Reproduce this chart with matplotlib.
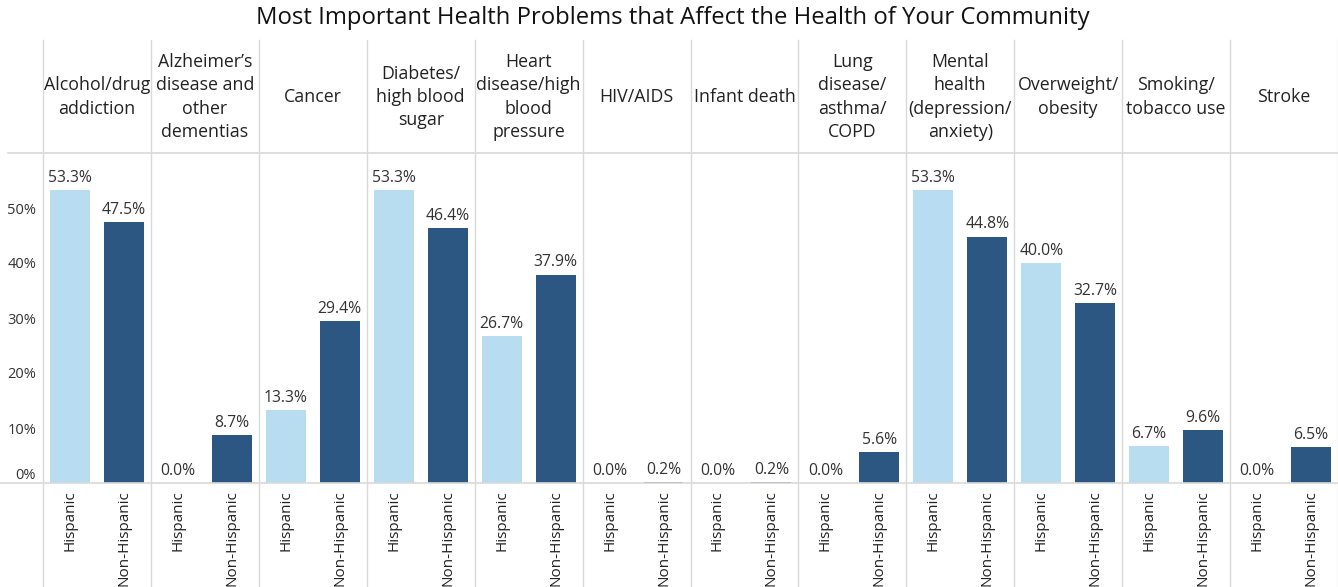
import numpy as np
import matplotlib.pyplot as plt

plt.rcParams['font.family'] = ['Open Sans', 'DejaVu Sans']

categories = ["Alcohol/drug\naddiction", "Alzheimer\u2019s\ndisease and\nother\ndementias",
              "Cancer", "Diabetes/\nhigh blood\nsugar", "Heart\ndisease/high\nblood\npressure",
              "HIV/AIDS", "Infant death", "Lung\ndisease/\nasthma/\nCOPD",
              "Mental\nhealth\n(depression/\nanxiety)", "Overweight/\nobesity",
              "Smoking/\ntobacco use", "Stroke"]
groups = ["Hispanic", "Non-Hispanic"]
hispanic = [53.3, 0.0, 13.3, 53.3, 26.7, 0.0, 0.0, 0.0, 53.3, 40.0, 6.7, 0.0]
non_hispanic = [47.5, 8.7, 29.4, 46.4, 37.9, 0.2, 0.2, 5.6, 44.8, 32.7, 9.6, 6.5]

light = "#b9ddf0"
dark = "#2c5782"
grid = "#d9d9d9"
txt = "#333333"

W, H = 1338, 587
fig = plt.figure(figsize=(W / 100, H / 100), dpi=100)
ax = fig.add_axes([43 / W, (H - 483) / H, (W - 43) / W, (483 - 153) / H])

n = len(categories)
x = np.arange(n) * 2
bw = 0.74
ax.bar(x + 0.5, hispanic, width=bw, color=light)
ax.bar(x + 1.5, non_hispanic, width=bw, color=dark)

for i in range(n):
    for off, v in ((0.5, hispanic[i]), (1.5, non_hispanic[i])):
        ax.annotate(f"{v:.1f}%", (x[i] + off, v), xytext=(0, 3), textcoords="offset points",
                    ha="center", va="bottom", fontsize=11.3, color=txt)
    ax.text(x[i] + 1, 1.17, categories[i], transform=ax.get_xaxis_transform(),
            ha="center", va="center", fontsize=12.8, color="#222222", linespacing=1.38)

ax.set_xlim(0, 2 * n)
ax.set_ylim(0, 60)
ax.set_yticks([0, 10, 20, 30, 40, 50])
ax.set_yticklabels([f"{t}%" for t in [0, 10, 20, 30, 40, 50]])
ax.get_yticklabels()[0].set_va("bottom")
ax.tick_params(axis="y", length=0, labelsize=10.5, labelcolor=txt, pad=5)

ticks = np.concatenate([x + 0.5, x + 1.5])
ax.set_xticks(np.sort(ticks))
ax.set_xticklabels(groups * n, rotation=90, fontsize=11, color="#222222")
ax.tick_params(axis="x", length=0, pad=5)

for s in ax.spines.values():
    s.set_visible(False)

# panel separators
for b in range(0, 2 * n + 1, 2):
    ax.plot([b, b], [-0.33, 1.342], transform=ax.get_xaxis_transform(), color=grid,
            lw=1, clip_on=False, zorder=0)
# header bottom line and baseline
fig.add_artist(plt.Line2D([8 / W, 1], [(H - 153) / H] * 2, color=grid, lw=1.2))
fig.add_artist(plt.Line2D([0, 1], [(H - 483) / H] * 2, color=grid, lw=1.2))

fig.text(673 / W, 1 - 18 / H, "Most Important Health Problems that Affect the Health of Your Community",
         ha="center", va="center", fontsize=17.2, color="#111111")

fig.savefig("out.png", dpi=100)
